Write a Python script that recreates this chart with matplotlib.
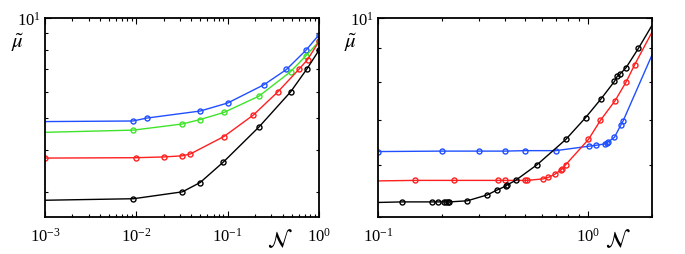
import matplotlib
matplotlib.use("Agg")
import matplotlib.pyplot as plt
from matplotlib.ticker import LogLocator, NullFormatter, LogFormatterSciNotation

plt.rcParams['mathtext.fontset'] = 'stix'
plt.rcParams['font.family'] = ['Liberation Serif', 'DejaVu Serif']

# ---- Left panel data ----
L_blue_x = [0.001, 0.0092, 0.013, 0.05, 0.1, 0.25, 0.44, 0.72, 1.0]
L_blue_y = [4.88, 4.9, 5.0, 5.25, 5.55, 6.3, 7.0, 8.0, 8.9]
L_green_x = [0.001, 0.0093, 0.032, 0.05, 0.091, 0.22, 0.49, 0.72, 1.0]
L_green_y = [4.53, 4.6, 4.8, 4.95, 5.2, 5.82, 6.9, 7.7, 8.5]
L_red_x = [0.001, 0.01, 0.02, 0.032, 0.039, 0.091, 0.19, 0.355, 0.6, 0.75, 1.0]
L_red_y = [3.79, 3.8, 3.82, 3.85, 3.9, 4.4, 5.1, 6.0, 7.0, 7.5, 8.5]
L_black_x = [0.001, 0.0093, 0.032, 0.05, 0.09, 0.22, 0.49, 0.73, 1.0]
L_black_y = [2.83, 2.86, 3.0, 3.2, 3.69, 4.7, 6.0, 7.0, 8.0]

# ---- Right panel data ----
R_blue_x = [0.1, 0.2, 0.3, 0.4, 0.5, 0.7, 1.01, 1.09, 1.2, 1.22, 1.245, 1.33, 1.43, 1.46, 2.0]
R_blue_y = [6.28, 6.29, 6.29, 6.29, 6.3, 6.3, 6.4, 6.42, 6.45, 6.47, 6.5, 6.6, 6.9, 6.98, 8.77]
R_red_x = [0.1, 0.15, 0.23, 0.37, 0.40, 0.5, 0.51, 0.61, 0.645, 0.69, 0.74, 0.75, 0.78, 1.0, 1.14, 1.34, 1.51, 1.66, 2.0]
R_red_y = [5.67, 5.68, 5.68, 5.68, 5.68, 5.68, 5.68, 5.71, 5.74, 5.80, 5.89, 5.91, 6.0, 6.55, 7.0, 7.5, 8.0, 8.5, 9.5]
R_black_x = [0.1, 0.13, 0.18, 0.193, 0.205, 0.21, 0.214, 0.218, 0.265, 0.33, 0.366, 0.405, 0.41, 0.45,
             0.57, 0.78, 0.97, 1.15, 1.33, 1.37, 1.41, 1.51, 1.73, 2.0]
R_black_y = [5.26, 5.27, 5.27, 5.27, 5.27, 5.27, 5.27, 5.27, 5.29, 5.40, 5.49, 5.57, 5.59, 5.68,
             6.0, 6.55, 7.07, 7.55, 8.02, 8.16, 8.22, 8.41, 9.0, 9.73]

blue = '#1f4fff'
green = '#3fe42a'
red = '#ff1f1f'
black = '#000000'

fig = plt.figure(figsize=(6.85, 2.55), dpi=100)
axL = fig.add_axes([45/685, 37/255, 274/685, 199/255])
axR = fig.add_axes([378.3/685, 37/255, 273.4/685, 199/255])

mk = dict(marker='o', fillstyle='none', markersize=3.6, markeredgewidth=1.0, linewidth=1.0)

axL.plot(L_blue_x, L_blue_y, color=blue, markevery=slice(1, None), **mk)
axL.plot(L_green_x, L_green_y, color=green, markevery=slice(1, None), **mk)
axL.plot(L_red_x, L_red_y, color=red, markevery=slice(0, None), **mk)
axL.plot(L_black_x, L_black_y, color=black, markevery=slice(1, None), **mk)

axR.plot(R_blue_x, R_blue_y, color=blue, markevery=slice(0, len(R_blue_x) - 1), **mk)
axR.plot(R_red_x, R_red_y, color=red, markevery=slice(1, len(R_red_x) - 1), **mk)
axR.plot(R_black_x, R_black_y, color=black, markevery=slice(1, len(R_black_x) - 1), **mk)

axL.set_xscale('log'); axL.set_yscale('log')
axR.set_xscale('log'); axR.set_yscale('log')
axL.set_xlim(1e-3, 1.0); axL.set_ylim(2.52, 10)
axR.set_xlim(0.1, 2.0); axR.set_ylim(5.0, 10)

for ax in (axL, axR):
    ax.xaxis.set_major_locator(LogLocator(base=10))
    ax.xaxis.set_minor_locator(LogLocator(base=10, subs=range(2, 10)))
    ax.yaxis.set_major_locator(LogLocator(base=10))
    ax.yaxis.set_minor_locator(LogLocator(base=10, subs=range(2, 10)))
    ax.xaxis.set_major_formatter(LogFormatterSciNotation())
    ax.yaxis.set_major_formatter(LogFormatterSciNotation())
    ax.xaxis.set_minor_formatter(NullFormatter())
    ax.yaxis.set_minor_formatter(NullFormatter())
    ax.tick_params(which='both', direction='in', top=True, right=True, labelsize=12, width=0.8)
    ax.tick_params(which='major', length=4, pad=7)
    ax.tick_params(which='minor', length=2.5)
    ax.tick_params(axis='y', which='major', pad=3)
    for s in ax.spines.values():
        s.set_linewidth(1.3)

axL.text(-0.10, 0.88, r'$\tilde{\mu}$', transform=axL.transAxes, fontsize=15, ha='center', va='center')
axL.text(0.857, -0.115, r'$\mathcal{N}$', transform=axL.transAxes, fontsize=16, ha='center', va='center')
axR.text(-0.10, 0.88, r'$\tilde{\mu}$', transform=axR.transAxes, fontsize=15, ha='center', va='center')
axR.text(0.876, -0.115, r'$\mathcal{N}$', transform=axR.transAxes, fontsize=16, ha='center', va='center')

fig.savefig('out.png', dpi=100)
